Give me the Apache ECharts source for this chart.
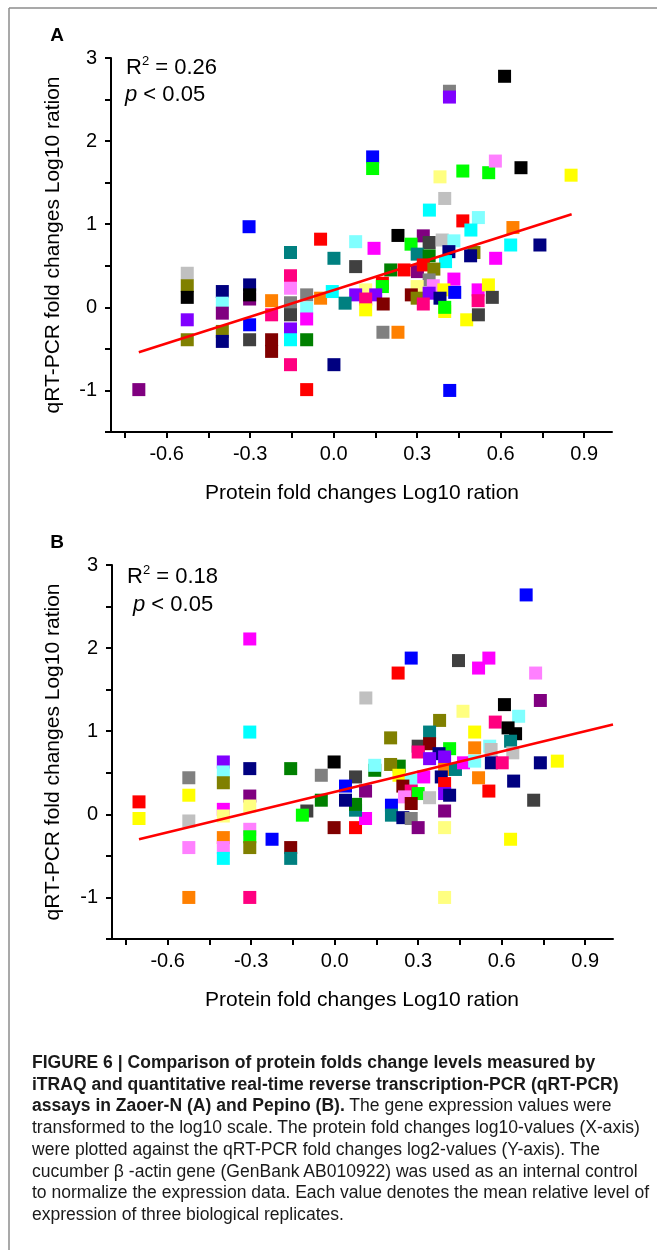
<!DOCTYPE html>
<html>
<head>
<meta charset="utf-8">
<script src="https://cdn.jsdelivr.net/npm/echarts@6/dist/echarts.min.js"></script>
<style>
  html, body { margin: 0; padding: 0; background: #fff; }
  #wrap { position: relative; width: 657px; height: 1250px; overflow: hidden; }
  #chart { position: absolute; left: 0; top: 0; width: 657px; height: 1250px; }
  #caption { position: absolute; left: 32px; top: 1052px; font-family: "Liberation Sans", Arial, sans-serif;
             font-size: 17.5px; line-height: 21.7px; color: #1a1a1a; white-space: nowrap; transform-origin: 0 0; }
  #caption b { font-weight: bold; }
</style>
</head>
<body>
<div id="wrap">
  <div id="chart"></div>
  <div id="caption">
    <div class="ln"><b>FIGURE 6 | Comparison of protein folds change levels measured by</b></div>
    <div class="ln"><b>iTRAQ and quantitative real-time reverse transcription-PCR (qRT-PCR)</b></div>
    <div class="ln"><b>assays in Zaoer-N (A) and Pepino (B).</b> The gene expression values were</div>
    <div class="ln">transformed to the log10 scale. The protein fold changes log10-values (X-axis)</div>
    <div class="ln">were plotted against the qRT-PCR fold changes log2-values (Y-axis). The</div>
    <div class="ln">cucumber β -actin gene (GenBank AB010922) was used as an internal control</div>
    <div class="ln">to normalize the expression data. Each value denotes the mean relative level of</div>
    <div class="ln">expression of three biological replicates.</div>
  </div>
</div>
<script>
// ---------------- DATA ----------------
const xTickValues = [-0.75, -0.6, -0.45, -0.3, -0.15, 0, 0.15, 0.3, 0.45, 0.6, 0.75, 0.9];
const xTickLabels = [-0.6, -0.3, 0, 0.3, 0.6, 0.9];
const yTickLabels = [-1, 0, 1, 2, 3];

// Panel A (Zaoer-N)
const xA = [-0.304,-0.047,0.079,0.14,0.14,0.614,0.416,0.416,0.382,0.464,0.557,0.581,0.673,0.853,0.399,0.344,0.464,0.52,0.493,0.644,
 0.145,0.231,0.322,0.278,0.343,0.39,0.432,0.636,0.741,0.30,0.343,0.414,0.504,0.492,0.582,0.402,0.079,0.205,0.253,0.301,
 0.322,0.36,0.343,0.432,0.358,0.30,0.175,0.175,0.115,0.079,0.151,0.115,0.178,0.115,0.279,0.30,0.343,0.322,0.396,0.382,
 0.435,0.399,0.399,0.519,0.519,0.556,0.57,0.478,0.52,0.177,0.231,0.417,-0.155,0.001,-0.526,-0.526,-0.526,-0.526,-0.526,-0.40,
 -0.40,-0.40,-0.40,-0.40,-0.302,-0.302,-0.302,-0.302,-0.302,-0.223,-0.223,-0.223,-0.223,-0.155,-0.155,-0.155,-0.155,-0.155,-0.155,-0.155,
 -0.097,-0.097,-0.097,-0.097,-0.097,-0.047,-0.005,0.041,0.001,-0.70];
const yA = [0.97,0.82,0.79,1.81,1.67,2.78,2.60,2.53,1.57,1.64,1.62,1.76,1.68,1.59,1.31,1.17,1.04,1.08,0.93,0.96,
 0.71,0.865,0.86,0.76,0.78,0.81,0.80,0.75,0.75,0.64,0.62,0.67,0.66,0.62,0.59,0.55,0.49,0.45,0.45,0.43,
 0.51,0.46,0.33,0.34,0.26,0.25,0.29,0.25,0.21,0.15,0.15,0.10,0.04,-0.03,0.15,0.11,0.17,0.04,0.21,0.11,
 0.18,-0.05,0.0,0.21,0.08,0.27,0.12,-0.15,-0.09,-0.30,-0.30,-1.0,0.66,0.59,0.41,0.26,0.12,-0.15,-0.39,0.19,
 0.05,-0.07,-0.29,-0.41,0.10,0.27,0.15,-0.21,-0.39,0.08,-0.09,-0.39,-0.53,0.38,0.23,0.055,-0.09,-0.26,-0.39,-0.69,
 0.15,-0.01,-0.14,-0.39,-0.99,0.11,0.19,0.05,-0.69,-0.99];
const gA = ['blue','red','lcyan','blue','green','black','gray','violet','lyellow','green','green','lmagenta','black','yellow','lgray','cyan','red','lcyan','cyan','orange',
 'magenta','black','purple','green','dgray','lgray','lcyan','cyan','navy','teal','dgreen','navy','olive','navy','magenta','cyan','dgray','dgreen','red','purple',
 'red','olive','gray','magenta','lmagenta','lyellow','red','green','lyellow','violet','violet','pink','maroon','yellow','maroon','olive','violet','pink','yellow','navy',
 'blue','yellow','green','magenta','pink','yellow','dgray','yellow','dgray','gray','orange','blue','teal','teal','lgray','olive','black','violet','olive','navy',
 'lcyan','purple','olive','navy','purple','navy','black','blue','dgray','orange','pink','maroon','maroon','pink','lmagenta','gray','dgray','violet','cyan','pink',
 'gray','lcyan','magenta','dgreen','red','orange','cyan','teal','navy','purple'];
const fitA = [[-0.70, -0.54], [0.855, 1.12]];

// Panel B (Pepino)
const xB = [-0.305,-0.305,0.112,0.688,0.275,0.228,0.445,0.554,0.517,0.722,0.739,0.461,0.61,0.661,0.377,0.201,0.341,0.577,0.623,0.65,
 0.503,0.632,0.30,0.341,0.413,0.503,0.557,0.562,0.64,0.30,0.375,0.341,0.395,0.144,0.144,0.232,0.201,0.075,0.395,0.434,
 0.463,0.503,0.563,0.602,0.739,0.80,0.231,0.275,0.32,0.383,0.517,0.643,0.395,0.554,0.111,0.245,0.275,0.30,0.251,0.275,
 0.341,0.395,0.413,0.204,0.204,0.245,0.275,0.30,0.395,0.395,0.715,0.632,0.395,0.075,0.111,0.075,0.075,-0.703,-0.703,-0.524,
 -0.524,-0.524,-0.524,-0.524,-0.40,-0.40,-0.40,-0.40,-0.40,-0.40,-0.40,-0.40,-0.305,-0.305,-0.305,-0.305,-0.305,-0.305,-0.305,-0.225,
 -0.158,-0.158,-0.158,-0.048,-0.002,-0.10,-0.116,-0.048,-0.002,0.039,0.039];
const yB = [2.11,0.99,1.40,2.64,1.88,1.70,1.85,1.88,1.76,1.70,1.37,1.24,1.32,1.18,1.13,0.92,0.99,1.11,1.04,0.97,
 0.99,0.88,0.82,0.85,0.79,0.80,0.82,0.78,0.74,0.75,0.73,0.67,0.69,0.53,0.59,0.58,0.60,0.45,0.54,0.54,
 0.62,0.64,0.62,0.62,0.62,0.64,0.47,0.41,0.45,0.45,0.44,0.40,0.37,0.28,0.28,0.34,0.28,0.25,0.21,0.13,
 0.20,0.25,0.23,0.11,-0.01,-0.04,-0.05,-0.16,0.04,-0.16,0.17,-0.30,-1.0,-0.16,-0.05,0.05,0.12,0.15,-0.05,0.44,
 0.23,-0.08,-0.40,-1.0,0.63,0.51,0.38,0.06,-0.02,-0.28,-0.40,-0.53,0.55,0.22,0.10,-0.18,-0.27,-0.40,-1.0,-0.30,
 0.55,-0.40,-0.53,0.47,0.63,0.04,-0.01,0.17,-0.16,0.34,0.17];
const gB = ['magenta','cyan','lgray','blue','blue','red','dgray','magenta','magenta','lmagenta','purple','lyellow','black','lcyan','olive','olive','teal','pink','black','black',
 'yellow','teal','dgray','maroon','green','orange','lcyan','lgray','lgray','pink','navy','violet','violet','dgreen','lcyan','dgreen','olive','dgray','orange','teal',
 'magenta','lcyan','navy','pink','navy','yellow','yellow','lcyan','magenta','navy','orange','navy','red','red','purple','maroon','pink','green','lmagenta','maroon',
 'lgray','violet','navy','blue','teal','navy','gray','purple','purple','lyellow','dgray','yellow','lyellow','red','magenta','teal','dgreen','red','yellow','gray',
 'yellow','lgray','lmagenta','orange','violet','lcyan','olive','magenta','lyellow','orange','lmagenta','cyan','navy','purple','lyellow','lmagenta','green','olive','pink','blue',
 'dgreen','maroon','teal','gray','black','dgray','green','dgreen','maroon','blue','navy'];
const fitB = [[-0.703, -0.30], [1.0, 1.08]];

// ---------------- STYLE ----------------
const palette = {
  black:'#000000', red:'#FF0000', green:'#00FF00', blue:'#0000FF', cyan:'#00FFFF', magenta:'#FF00FF',
  yellow:'#FFFF00', olive:'#808000', navy:'#000080', purple:'#800080', maroon:'#800000', teal:'#008080',
  gray:'#808080', dgreen:'#008000', violet:'#8000FF', orange:'#FF8000', pink:'#FF0080', dgray:'#404040',
  lgray:'#C0C0C0', lcyan:'#80FFFF', lmagenta:'#FF80FF', lyellow:'#FFFF80'
};
const FONT = '"Liberation Sans", Arial, sans-serif';

const grids = [
  { left: 111, top: 58, width: 501, height: 374 },
  { left: 112, top: 565, width: 501, height: 374 }
];

function xAxisFor(i) {
  return {
    type: 'value', gridIndex: i, min: -0.8, max: 1.0,
    axisLine: { show: true, onZero: false, lineStyle: { color: '#000', width: 2 } },
    axisTick: { show: true, inside: false, length: 6, customValues: xTickValues, lineStyle: { color: '#000', width: 2 } },
    axisLabel: { customValues: xTickLabels, margin: 12, color: '#000', fontSize: 20, fontFamily: FONT,
                 formatter: v => v.toFixed(1) },
    splitLine: { show: false }
  };
}
function yAxisFor(i) {
  return {
    type: 'value', gridIndex: i, min: -1.5, max: 3, interval: 0.5,
    axisLine: { show: true, onZero: false, lineStyle: { color: '#000', width: 2 } },
    axisTick: { show: true, inside: false, length: 6, lineStyle: { color: '#000', width: 2 } },
    axisLabel: { customValues: yTickLabels, margin: 14, color: '#000', fontSize: 20, fontFamily: FONT,
                 formatter: v => String(v) },
    splitLine: { show: false }
  };
}

function scatter(i, xs, ys, gs) {
  return {
    type: 'scatter', xAxisIndex: i, yAxisIndex: i, symbol: 'rect', symbolSize: 13,
    data: xs.map((x, k) => [x, ys[k], gs[k]]),
    itemStyle: { color: p => palette[p.data[2]], opacity: 1 },
    silent: true, z: 2
  };
}
function fitLine(i, pts) {
  return {
    type: 'line', xAxisIndex: i, yAxisIndex: i, data: pts, symbol: 'none',
    lineStyle: { color: '#FF0000', width: 2.5 }, silent: true, z: 3
  };
}

function statTexts(x, y, r2, px, py) {
  return [
    { type: 'text', x: x, y: y, style: {
        text: '{r|R}{s|2}{r| = ' + r2 + '}', verticalAlign: 'middle',
        rich: { r: { fontSize: 22, fontFamily: FONT, fill: '#000', lineHeight: 26 },
                s: { fontSize: 13, fontFamily: FONT, fill: '#000', verticalAlign: 'top', lineHeight: 26 } } } },
    { type: 'text', x: px, y: py, style: { text: '{i|p}{n| < 0.05}', verticalAlign: 'middle',
        rich: { i: { fontSize: 22, fontStyle: 'italic', fontFamily: FONT, fill: '#000' },
                n: { fontSize: 22, fontFamily: FONT, fill: '#000' } } } }
  ];
}

const TITLE_X = 'Protein fold changes Log10 ration';
const TITLE_Y = 'qRT-PCR fold changes Log10 ration';

const chart = echarts.init(document.getElementById('chart'), null, { renderer: 'canvas' });
chart.setOption({
  animation: false,
  backgroundColor: '#fff',
  grid: grids,
  xAxis: [xAxisFor(0), xAxisFor(1)],
  yAxis: [yAxisFor(0), yAxisFor(1)],
  series: [scatter(0, xA, yA, gA), fitLine(0, fitA), scatter(1, xB, yB, gB), fitLine(1, fitB)],
  graphic: [
    // frame lines
    { type: 'line', shape: { x1: 9, y1: 8, x2: 657, y2: 8 }, style: { stroke: '#8c8c8c', lineWidth: 1.5 } },
    { type: 'line', shape: { x1: 9, y1: 8, x2: 9, y2: 1250 }, style: { stroke: '#8c8c8c', lineWidth: 1.5 } },
    // panel letters
    { type: 'text', x: 57, y: 36, style: { text: 'A', font: 'bold 19px ' + FONT, fill: '#000', align: 'center', verticalAlign: 'middle' } },
    { type: 'text', x: 57, y: 543, style: { text: 'B', font: 'bold 19px ' + FONT, fill: '#000', align: 'center', verticalAlign: 'middle' } },
    // axis titles
    { type: 'text', x: 362, y: 493, style: { text: TITLE_X, font: '21px ' + FONT, fill: '#000', align: 'center', verticalAlign: 'middle' } },
    { type: 'text', x: 362, y: 1000, style: { text: TITLE_X, font: '21px ' + FONT, fill: '#000', align: 'center', verticalAlign: 'middle' } },
    { type: 'text', x: 53, y: 245, rotation: Math.PI / 2, style: { text: TITLE_Y, font: '21px ' + FONT, fill: '#000', align: 'center', verticalAlign: 'middle' } },
    { type: 'text', x: 53, y: 752, rotation: Math.PI / 2, style: { text: TITLE_Y, font: '21px ' + FONT, fill: '#000', align: 'center', verticalAlign: 'middle' } },
    // statistics
    ...statTexts(126, 68, '0.26', 125, 95),
    ...statTexts(127, 577, '0.18', 133, 605)
  ]
});

// fit caption lines to the printed column width
(function () {
  const cap = document.getElementById('caption');
  let maxW = 0;
  cap.querySelectorAll('.ln').forEach(el => {
    el.style.display = 'inline-block';
    maxW = Math.max(maxW, el.getBoundingClientRect().width);
    el.style.display = 'block';
  });
  const target = 617;
  if (maxW > 0) cap.style.transform = 'scaleX(' + (target / maxW).toFixed(4) + ')';
})();
</script>
</body>
</html>
